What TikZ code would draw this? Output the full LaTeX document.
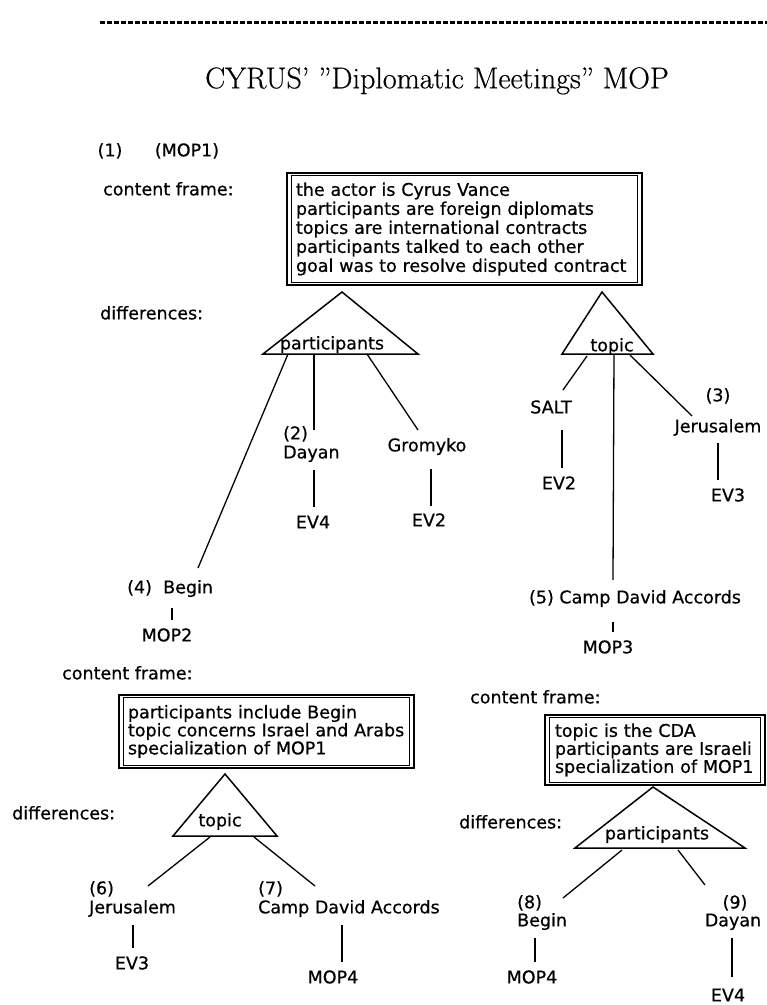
\documentclass[tikz,border=0pt]{standalone}
\usepackage{fontspec}
\newfontfamily\dvsans[FakeBold=0.6]{DejaVu Sans}
\newfontfamily\titlefont[FakeBold=0.5]{Latin Modern Roman}
\newcommand\lblf{\dvsans\fontsize{17.5}{19}\selectfont}
\newcommand\boxf{\dvsans\fontsize{17.5}{19}\selectfont}
\newcommand\boxg{\dvsans\fontsize{17.5}{18}\selectfont}
\begin{document}
\begin{tikzpicture}[x=1pt,y=-1pt,
  lbl/.style={font=\lblf, inner sep=0pt, text height=12.7pt, text depth=0pt},
  conn/.style={line width=1.3pt},
  tri/.style={line width=1.5pt, line join=miter},
  cbox/.style={draw, line width=2.8pt, align=left, inner ysep=0pt, outer sep=0pt, anchor=north west},
  inbox/.style={line width=1.3pt},
  dashline/.style={line width=3pt, dash pattern=on 5pt off 2pt},
]
\useasboundingbox (0,0) rectangle (767,1005);

% header
\coordinate (dashL) at (100,22);
\coordinate (dashR) at (767,22);
\draw[dashline] (dashL) -- (dashR);
\node[font=\titlefont\fontsize{30}{32}\selectfont, inner sep=0pt, text height=20.5pt, text depth=0pt] (title) at (437,78) {CYRUS’ ”Diplomatic Meetings” MOP};

% ---------- MOP1 ----------
\node[lbl] (n1) at (110,150) {(1)};
\node[lbl] (mop1) at (187,150) {(MOP1)};
\node[lbl, anchor=west] (cf1) at (103,189) {content frame:};
\node[lbl, anchor=west] (df1) at (100,313) {differences:};
\node[cbox, font=\boxf, minimum width=355pt, minimum height=112pt, text width=337pt, inner xsep=9pt] (box1) at (287,173)
  {the actor is Cyrus Vance\\participants are foreign diplomats\\topics are international contracts\\participants talked to each other\\goal was to resolve disputed contract};
\draw[inbox] ([shift={(4.2,2.6)}]box1.north west) rectangle ([shift={(-4.2,-2.6)}]box1.south east);

% participants triangle
\coordinate (t1a) at (342,292);
\coordinate (t1l) at (263,354);
\coordinate (t1r) at (418,354);
\draw[tri] (t1a) -- (t1l) -- (t1r) -- cycle;
\node[lbl] (t1lab) at (332,343) {participants};

% topic triangle
\coordinate (t2a) at (602,292);
\coordinate (t2l) at (562,354);
\coordinate (t2r) at (653,354);
\draw[tri] (t2a) -- (t2l) -- (t2r) -- cycle;
\node[lbl] (t2lab) at (612,345) {topic};

% participants children
\node[lbl, anchor=west] (n4) at (127,587) {(4)};
\node[lbl, anchor=west] (begin4) at (163,587) {Begin};
\node[lbl] (mop2) at (167,635) {MOP2};
\coordinate (b1s) at (288,354); \coordinate (b1e) at (198,568);
\draw[conn] (b1s) -- (b1e);
\coordinate (m2s) at (172,608); \coordinate (m2e) at (172,620);
\draw[conn] (m2s) -- (m2e);

\node[lbl, anchor=west] (n2) at (283,433) {(2)};
\node[lbl, anchor=west] (dayan2) at (283,452) {Dayan};
\node[lbl] (ev4a) at (313,522) {EV4};
\coordinate (d1s) at (314,354); \coordinate (d1e) at (314,430);
\draw[conn] (d1s) -- (d1e);
\coordinate (d2s) at (314,470); \coordinate (d2e) at (314,507);
\draw[conn] (d2s) -- (d2e);

\node[lbl] (grom) at (427,445) {Gromyko};
\node[lbl] (ev2a) at (429,520) {EV2};
\coordinate (g1s) at (367,354); \coordinate (g1e) at (418,430);
\draw[conn] (g1s) -- (g1e);
\coordinate (g2s) at (431,469); \coordinate (g2e) at (431,506);
\draw[conn] (g2s) -- (g2e);

% topic children
\node[lbl] (salt) at (551,407) {SALT};
\node[lbl] (ev2b) at (559,483) {EV2};
\coordinate (s1s) at (587,356); \coordinate (s1e) at (563,390);
\draw[conn] (s1s) -- (s1e);
\coordinate (s2s) at (562,430); \coordinate (s2e) at (562,468);
\draw[conn] (s2s) -- (s2e);

\node[lbl] (cda5) at (635,597) {(5) Camp David Accords};
\node[lbl] (mop3) at (608,647) {MOP3};
\coordinate (c1s) at (614,354); \coordinate (c1e) at (613,580);
\draw[conn] (c1s) -- (c1e);
\coordinate (c2s) at (613,622); \coordinate (c2e) at (613,632);
\draw[conn] (c2s) -- (c2e);

\node[lbl] (n3) at (718,395) {(3)};
\node[lbl] (jer3) at (718,426) {Jerusalem};
\node[lbl] (ev3a) at (728,495) {EV3};
\coordinate (j1s) at (630,355); \coordinate (j1e) at (692,416);
\draw[conn] (j1s) -- (j1e);
\coordinate (j2s) at (718,443); \coordinate (j2e) at (718,480);
\draw[conn] (j2s) -- (j2e);

% ---------- MOP2 ----------
\node[lbl, anchor=west] (cf2) at (62,673) {content frame:};
\node[cbox, font=\boxg, minimum width=295pt, minimum height=73pt, text width=277pt, inner xsep=9pt] (box2) at (119,695)
  {participants include Begin\\topic concerns Israel and Arabs\\specialization of MOP1};
\draw[inbox] ([shift={(4.2,2.6)}]box2.north west) rectangle ([shift={(-4.2,-2.6)}]box2.south east);
\node[lbl, anchor=west] (df2) at (12,813) {differences:};

\coordinate (t3a) at (225,774);
\coordinate (t3l) at (173,836);
\coordinate (t3r) at (277,836);
\draw[tri] (t3a) -- (t3l) -- (t3r) -- cycle;
\node[lbl] (t3lab) at (220,820) {topic};

\node[lbl, anchor=west] (n6) at (89,888) {(6)};
\node[lbl, anchor=west] (jer6) at (89,907) {Jerusalem};
\node[lbl] (ev3b) at (132,963) {EV3};
\coordinate (e1s) at (210,837); \coordinate (e1e) at (148,886);
\draw[conn] (e1s) -- (e1e);
\coordinate (e2s) at (133,925); \coordinate (e2e) at (133,948);
\draw[conn] (e2s) -- (e2e);

\node[lbl, anchor=west] (n7) at (258,888) {(7)};
\node[lbl, anchor=west] (cda7) at (258,907) {Camp David Accords};
\node[lbl] (mop4a) at (333,977) {MOP4};
\coordinate (f1s) at (254,837); \coordinate (f1e) at (315,886);
\draw[conn] (f1s) -- (f1e);
\coordinate (f2s) at (342,925); \coordinate (f2e) at (342,962);
\draw[conn] (f2s) -- (f2e);

% ---------- MOP3 ----------
\node[lbl, anchor=west] (cf3) at (470,697) {content frame:};
\node[cbox, font=\boxg, minimum width=220pt, minimum height=70pt, text width=200pt, inner xsep=10pt] (box3) at (545,715)
  {topic is the CDA\\participants are Israeli\\specialization of MOP1};
\draw[inbox] ([shift={(4.2,2.6)}]box3.north west) rectangle ([shift={(-4.2,-2.6)}]box3.south east);
\node[lbl, anchor=west] (df3) at (459,822) {differences:};

\coordinate (t4a) at (653,787);
\coordinate (t4l) at (575,848);
\coordinate (t4r) at (745,848);
\draw[tri] (t4a) -- (t4l) -- (t4r) -- cycle;
\node[lbl] (t4lab) at (657,833) {participants};

\node[lbl, anchor=west] (n8) at (517,902) {(8)};
\node[lbl, anchor=west] (begin8) at (517,920) {Begin};
\node[lbl] (mop4b) at (532,977) {MOP4};
\coordinate (h1s) at (622,850); \coordinate (h1e) at (563,898);
\draw[conn] (h1s) -- (h1e);
\coordinate (h2s) at (535,938); \coordinate (h2e) at (535,962);
\draw[conn] (h2s) -- (h2e);

\node[lbl] (n9) at (735,902) {(9)};
\node[lbl] (dayan9) at (733,920) {Dayan};
\node[lbl] (ev4b) at (728,995) {EV4};
\coordinate (k1s) at (678,850); \coordinate (k1e) at (705,885);
\draw[conn] (k1s) -- (k1e);
\coordinate (k2s) at (732,938); \coordinate (k2e) at (732,977);
\draw[conn] (k2s) -- (k2e);
\end{tikzpicture}
\end{document}
